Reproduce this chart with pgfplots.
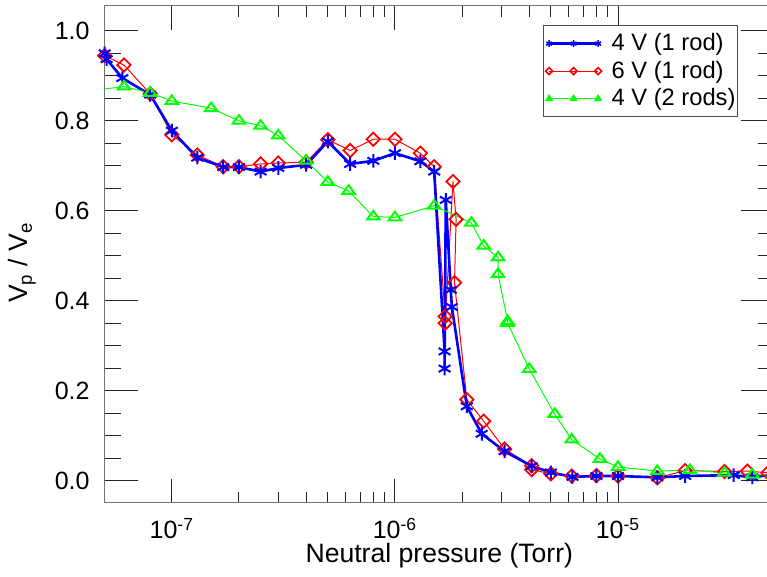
\documentclass[border=0pt]{standalone}
\usepackage{fontspec}
\setmainfont{Liberation Sans}
\usepackage{pgfplots}
\pgfplotsset{compat=1.18}
\usetikzlibrary{calc}

\begin{document}
\begin{tikzpicture}
\begin{axis}[
  scale only axis,
  width=334.65pt, height=248.65pt,
  xmode=log,
  xmin=5e-8, xmax=5e-5,
  ymin=-0.05, ymax=1.056,
  xtick={1e-7,1e-6,1e-5},
  xticklabels={10\textsuperscript{-7},10\textsuperscript{-6},10\textsuperscript{-5}},
  ytick={0,0.2,0.4,0.6,0.8,1.0},
  minor y tick num=3,
  axis line style={black!55, line width=0.5pt},
  tick style={black!85, line width=0.5pt},
  xtick style={/pgfplots/major tick length=12pt,/pgfplots/minor tick length=5.5pt},
  ytick style={/pgfplots/major tick length=16.5pt,/pgfplots/minor tick length=8pt},
  yticklabel style={/pgf/number format/fixed,/pgf/number format/fixed zerofill,/pgf/number format/precision=1,/pgf/number format/assume math mode=true, anchor=east, inner sep=0pt, xshift=-7.35pt},
  xticklabel style={anchor=base, yshift=-18pt, inner sep=0pt},
  tick label style={font=\fontsize{12.5}{15}\selectfont},
  label style={font=\fontsize{13.3}{15}\selectfont},
  xlabel={Neutral pressure (Torr)},
  ylabel={V\textsubscript{p} / V\textsubscript{e}},
  xlabel style={at={(axis description cs:0.5,-0.12065)}, anchor=base, inner sep=0pt},
  ylabel style={at={(axis description cs:-0.1234,0.483)}, anchor=center, inner sep=0pt},
  legend cell align=left,
  legend style={at={(axis description cs:1,1)}, anchor=north east, xshift=-18pt, yshift=-9.65pt,
    draw=black!70, line width=0.5pt, font=\fontsize{11.85}{14}\selectfont,
    inner xsep=1pt, inner ysep=4pt, row sep=3.7pt, column sep=5pt,
    nodes={inner sep=0pt}},
]
% red: 6 V (1 rod)
\addplot[red, line width=0.5pt, mark=square, mark size=2.35pt, mark options={rotate=45, solid, line width=0.9pt}, forget plot] coordinates {
(5.0e-8,0.945) (6.1e-8,0.924) (8.0e-8,0.860) (1.0e-7,0.769) (1.3e-7,0.724)
(1.7e-7,0.698) (2.0e-7,0.698) (2.5e-7,0.704) (3.0e-7,0.706) (4.0e-7,0.708)
(5.0e-7,0.758) (6.3e-7,0.734) (8.0e-7,0.759) (1.0e-6,0.759) (1.3e-6,0.728)
(1.5e-6,0.698) (1.68e-6,0.365) (1.68e-6,0.350) (1.82e-6,0.665) (1.88e-6,0.581)
(1.85e-6,0.440) (2.1e-6,0.180) (2.5e-6,0.132) (3.1e-6,0.070) (4.1e-6,0.033)
(4.1e-6,0.024) (5.0e-6,0.015) (6.2e-6,0.010) (8.0e-6,0.011) (1.0e-5,0.010)
(1.5e-5,0.006) (2.0e-5,0.022) (3.0e-5,0.020) (3.8e-5,0.021) (4.7e-5,0.017)
};
% blue: 4 V (1 rod)
\addplot[blue, line width=1.3pt, mark=asterisk, mark size=3.4pt, mark options={solid, line width=1pt}, forget plot] coordinates {
(5.0e-8,0.950) (5.1e-8,0.937) (6.0e-8,0.895) (8.0e-8,0.858) (1.0e-7,0.778)
(1.3e-7,0.718) (1.7e-7,0.697) (2.0e-7,0.697) (2.5e-7,0.687) (3.0e-7,0.695)
(4.0e-7,0.702) (5.0e-7,0.754) (6.3e-7,0.704) (8.0e-7,0.711) (1.0e-6,0.728)
(1.3e-6,0.710) (1.5e-6,0.687) (1.67e-6,0.287) (1.67e-6,0.249) (1.69e-6,0.624)
(1.78e-6,0.424) (1.80e-6,0.386) (2.1e-6,0.165) (2.45e-6,0.104) (3.1e-6,0.065)
(4.1e-6,0.032) (5.0e-6,0.018) (6.25e-6,0.008) (8.0e-6,0.010) (1.0e-5,0.010)
(1.5e-5,0.007) (2.0e-5,0.010) (3.3e-5,0.012) (4.0e-5,0.007) (5.0e-5,0.014)
};
% green: 4 V (2 rods)
\addplot[green, line width=0.5pt, forget plot] coordinates {(4.0e-8,0.865) (6.1e-8,0.876)};
\addplot[green, line width=0.5pt, mark=triangle, mark size=3.6pt, mark options={solid, yscale=0.79, line width=1pt}, forget plot] coordinates {
(6.1e-8,0.876) (8.0e-8,0.862) (1.0e-7,0.844) (1.5e-7,0.828) (2.0e-7,0.800)
(2.5e-7,0.789) (3.0e-7,0.767) (4.0e-7,0.711) (5.0e-7,0.664) (6.2e-7,0.644)
(8.0e-7,0.587) (1.0e-6,0.585) (1.5e-6,0.611) (2.2e-6,0.573) (2.5e-6,0.522)
(2.9e-6,0.496) (2.9e-6,0.459) (3.2e-6,0.354) (3.2e-6,0.350) (4.0e-6,0.248)
(5.2e-6,0.148) (6.2e-6,0.091) (8.3e-6,0.048) (1.0e-5,0.030) (1.5e-5,0.021)
(2.1e-5,0.023) (3.0e-5,0.017) (4.0e-5,0.013) (5.0e-5,0.012)
};
\addlegendimage{legend image code/.code={\draw[blue, line width=1.25pt, mark=asterisk, mark size=1.7pt, mark options={solid, line width=0.8pt}] plot coordinates {(0pt,0pt) (12.25pt,0pt) (24.5pt,0pt)};}}
\addlegendentry{4 V (1 rod)}
\addlegendimage{legend image code/.code={\draw[red, line width=0.5pt, mark=square, mark size=1.25pt, mark options={solid, rotate=45, line width=0.8pt, fill=white}] plot coordinates {(0pt,0pt) (12.25pt,0pt) (24.5pt,0pt)};}}
\addlegendentry{6 V (1 rod)}
\addlegendimage{legend image code/.code={\draw[green, line width=0.5pt, mark=triangle*, mark size=1.8pt, mark options={solid, line width=0.6pt, fill=green}] plot coordinates {(0pt,0pt) (12.25pt,0pt) (24.5pt,0pt)};}}
\addlegendentry{4 V (2 rods)}
\end{axis}
\pgfresetboundingbox
\path[use as bounding box] ($(current axis.south west)+(-52.35pt,-37pt)$) rectangle ($(current axis.south west)+(331.15pt,251.5pt)$);
\end{tikzpicture}
\end{document}
